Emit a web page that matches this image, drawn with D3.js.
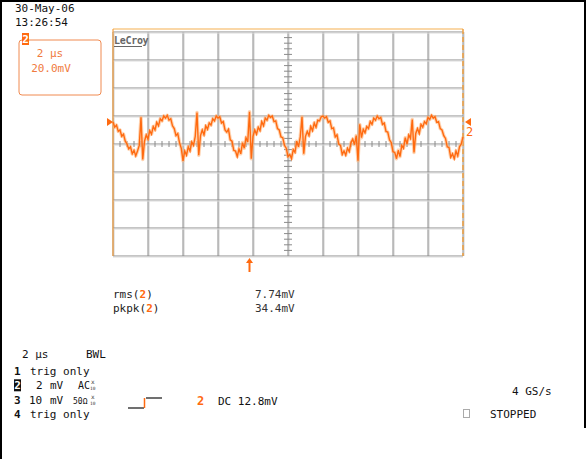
<!DOCTYPE html>
<html><head><meta charset="utf-8">
<script src="https://cdn.jsdelivr.net/npm/d3@7"></script>
<style>
html,body{margin:0;padding:0;background:#fff;}
svg{display:block;}
text{font-family:"DejaVu Sans Mono",monospace;}
</style></head>
<body>
<svg id="c" width="586" height="459"></svg>
<script>
// ---- data ----
const dateLabel = "30-May-06";
const timeLabel = "13:26:54";
const timeDomain = [-10, 10];      // µs, 2 µs/div
const voltDomain = [-8, 8];        // mV, 2 mV/div
const channelOffset = 1.57;        // mV, channel 2 ground marker
const triggerTime = -2.2;          // µs
const trace = [
 1.57,1.2,1.35,0.9,1.0,0.55,0.7,0.2,0.0,-0.35,-0.2,
 -0.7,-0.45,-0.85,-0.5,-0.1,1.9,-1.1,
 0.2,0.65,0.35,0.95,0.7,1.25,1.0,1.55,1.3,1.8,1.65,
 2.0,1.85,2.05,
 1.7,1.8,1.3,1.1,0.6,0.75,0.1,-0.3,-1.2,-0.5,
 -0.8,-0.2,-0.5,0.15,-0.1,0.55,2.25,-0.8,0.6,
 1.0,0.65,1.3,1.05,1.5,1.35,1.8,1.65,
 2.0,1.85,1.95,
 1.5,1.6,1.0,0.85,1.05,0.3,0.2,-0.45,-0.5,-0.9,
 -0.35,-0.7,0.1,-0.3,0.45,0.15,2.3,-1.05,0.55,
 1.0,0.7,1.2,0.95,1.6,1.3,1.85,1.7,
 2.05,1.9,2.0,
 1.6,1.65,1.1,1.0,0.5,0.45,-0.1,-0.3,-0.9,-0.75,
 -1.05,-0.4,-0.6,0.2,-0.2,0.5,1.95,-0.7,0.55,
 0.9,0.6,1.25,0.95,1.5,1.2,1.7,1.65,1.95,
 2.0,1.85,1.95,
 1.55,1.65,1.1,1.15,0.5,0.65,0.0,-0.1,-0.75,-0.5,
 -0.8,-0.3,-0.55,0.1,0.35,-0.05,0.6,-1.2,1.4,0.45,
 1.05,0.8,1.25,1.1,1.6,1.4,1.85,1.7,
 2.0,1.8,1.9,
 1.4,1.5,0.9,0.85,0.3,0.1,-0.55,-0.6,-1.05,
 -0.45,-0.9,-0.1,-0.3,0.45,0.0,0.65,0.4,1.75,-0.6,0.75,
 1.1,0.75,1.4,1.2,1.6,1.45,1.9,1.75,
 2.05,1.85,1.95,
 1.55,1.6,1.1,1.0,0.6,0.4,-0.2,-0.25,-0.95,-0.7,
 -1.05,-0.5,-0.85,-0.2,0.0,0.5
];
const measLabels = ["rms(", "pkpk("];
const measValues = ["7.74mV", "34.4mV"];
const chanLines = [
  {n:"1", parts:[["trig only",30,11]]},
  {n:"2", parts:[["2",36,11],["mV",50,11],["AC",78,10]], boxed:true, probe:true},
  {n:"3", parts:[["10",29,11],["mV",50,11],["50Ω",73,8]], probe:true},
  {n:"4", parts:[["trig only",30,11]]}
];

// ---- drawing ----
const svg = d3.select("#c");
const ORANGE = "#ff6a10";
const x = d3.scaleLinear().domain(timeDomain).range([113, 463]);
const y = d3.scaleLinear().domain(voltDomain).range([256, 32]);
const xi = d3.scaleLinear().domain([0, trace.length - 1]).range(timeDomain);

// border
svg.append("line").attr("x1",0).attr("x2",586).attr("y1",1).attr("y2",1).attr("stroke","#000").attr("stroke-width",2);
svg.append("line").attr("x1",1).attr("x2",1).attr("y1",0).attr("y2",459).attr("stroke","#000").attr("stroke-width",2);
svg.append("line").attr("x1",585).attr("x2",585).attr("y1",0).attr("y2",428).attr("stroke","#000").attr("stroke-width",2);

// header
svg.append("text").attr("x",15).attr("y",12).attr("font-size",11).attr("fill","#111").text(dateLabel);
svg.append("text").attr("x",15).attr("y",26).attr("font-size",11).attr("fill","#111").text(timeLabel);

// channel box
svg.append("rect").attr("x",19).attr("y",40).attr("width",82).attr("height",55).attr("rx",3)
  .attr("fill","none").attr("stroke","#f08a50").attr("stroke-width",1);
svg.append("rect").attr("x",22).attr("y",33).attr("width",7).attr("height",12).attr("fill",ORANGE);
svg.append("text").attr("x",25.5).attr("y",43).attr("text-anchor","middle").attr("font-size",11).attr("font-weight","bold").attr("fill","#fff").text("2");
svg.append("text").attr("x",50).attr("y",57).attr("text-anchor","middle").attr("font-size",11).attr("fill","#f07a40").text("2 µs");
svg.append("text").attr("x",51).attr("y",72).attr("text-anchor","middle").attr("font-size",11).attr("fill","#f07a40").text("20.0mV");

// grid
const g = svg.append("g");
const xt = d3.range(timeDomain[0], timeDomain[1] + 0.001, 2);
const yt = d3.range(voltDomain[0], voltDomain[1] + 0.001, 2);
g.selectAll(".vl2").data(xt).join("line")
  .attr("x1",d=>x(d)+1).attr("x2",d=>x(d)+1).attr("y1",y(8)).attr("y2",y(-8))
  .attr("stroke","#d0d0d0").attr("stroke-width",1);
g.selectAll(".vl").data(xt).join("line")
  .attr("x1",d=>x(d)).attr("x2",d=>x(d)).attr("y1",y(8)).attr("y2",y(-8))
  .attr("stroke","#8a8a8a").attr("stroke-width",1);
g.selectAll(".hl").data(yt).join("line")
  .attr("x1",x(-10)).attr("x2",x(10)).attr("y1",d=>y(d)).attr("y2",d=>y(d))
  .attr("stroke","#8a8a8a").attr("stroke-width",1);
g.selectAll(".hl2").data(yt).join("line")
  .attr("x1",x(-10)).attr("x2",x(10)).attr("y1",d=>y(d)+1).attr("y2",d=>y(d)+1)
  .attr("stroke","#dcdcdc").attr("stroke-width",1);
// minor ticks on center lines
const vMinor = d3.range(-8, 8.001, 0.4).filter(v => Math.abs(v/2 - Math.round(v/2)) > 0.01);
g.selectAll(".vm").data(vMinor).join("line")
  .attr("x1",x(0)-4).attr("x2",x(0)+4).attr("y1",d=>y(d)).attr("y2",d=>y(d))
  .attr("stroke","#8a8a8a").attr("stroke-width",1);
const tMinor = d3.range(-10, 10.001, 0.4).filter(v => Math.abs(v/2 - Math.round(v/2)) > 0.01);
g.selectAll(".tm").data(tMinor).join("line")
  .attr("x1",d=>x(d)).attr("x2",d=>x(d)).attr("y1",y(0)-3).attr("y2",y(0)+3)
  .attr("stroke","#8a8a8a").attr("stroke-width",1);

// orange frame
svg.append("line").attr("x1",x(-10)).attr("x2",x(10)).attr("y1",29).attr("y2",29).attr("stroke","#f5b050").attr("stroke-width",1.2);
svg.append("line").attr("x1",x(-10)).attr("x2",x(-10)).attr("y1",29).attr("y2",y(-8)).attr("stroke","#f5a040").attr("stroke-width",1.2);
svg.append("line").attr("x1",x(10)).attr("x2",x(10)).attr("y1",29).attr("y2",y(-8)).attr("stroke","#f0a040").attr("stroke-width",1.5).attr("stroke-dasharray","5,3");

// LeCroy logo
svg.append("text").attr("x",114).attr("y",44).attr("font-size",10).attr("font-weight","bold").attr("fill","#666")
  .attr("font-family","DejaVu Sans, sans-serif").attr("letter-spacing","-0.3").text("LeCroy");
svg.append("line").attr("x1",114).attr("x2",142).attr("y1",46.5).attr("y2",46.5).attr("stroke","#666").attr("stroke-width",1);

// trace
const line = d3.line().x((d,i)=>x(xi(i))).y(d=>y(d));
svg.append("path").datum(trace).attr("d",line).attr("fill","none").attr("stroke","#ffb47a").attr("stroke-width",3.5).attr("stroke-opacity",0.6).attr("stroke-linejoin","round");
svg.append("path").datum(trace).attr("d",line).attr("fill","none").attr("stroke",ORANGE).attr("stroke-width",1.4);

// channel markers
const oy = y(channelOffset);
svg.append("path").attr("d",`M${x(-10)-6},${oy-4} L${x(-10)},${oy} L${x(-10)-6},${oy+4} Z`).attr("fill",ORANGE);
svg.append("path").attr("d",`M${x(10)+8},${oy-4} L${x(10)+2},${oy} L${x(10)+8},${oy+4} Z`).attr("fill",ORANGE);
svg.append("text").attr("x",x(10)+3).attr("y",oy+14).attr("font-size",12).attr("fill",ORANGE).text("2");

// trigger arrow
const tx = x(triggerTime);
svg.append("line").attr("x1",tx).attr("x2",tx).attr("y1",262).attr("y2",272).attr("stroke",ORANGE).attr("stroke-width",2);
svg.append("path").attr("d",`M${tx-3.5},${263} L${tx},${258} L${tx+3.5},${263} Z`).attr("fill",ORANGE);

// measurements
measLabels.forEach((lab,i)=>{
  const t = svg.append("text").attr("x",113).attr("y",298+i*14).attr("font-size",11).attr("fill","#222");
  t.append("tspan").text(lab);
  t.append("tspan").attr("fill",ORANGE).attr("font-weight","bold").text("2");
  t.append("tspan").text(")");
  svg.append("text").attr("x",255).attr("y",298+i*14).attr("font-size",11).attr("fill","#333").text(measValues[i]);
});

// bottom
svg.append("text").attr("x",22).attr("y",358).attr("font-size",11).attr("fill","#111").text("2 µs");
svg.append("text").attr("x",86).attr("y",358).attr("font-size",11).attr("fill","#111").text("BWL");
chanLines.forEach((c,i)=>{
  const by = 375 + i*14.3;
  if (c.boxed) {
    svg.append("rect").attr("x",14).attr("y",by-10).attr("width",7).attr("height",12).attr("fill","#111");
    svg.append("text").attr("x",17.5).attr("y",by).attr("text-anchor","middle").attr("font-size",11).attr("font-weight","bold").attr("fill","#fff").text(c.n);
  } else {
    svg.append("text").attr("x",14).attr("y",by).attr("font-size",11).attr("font-weight","bold").attr("fill","#111").text(c.n);
  }
  c.parts.forEach(p=>{
    svg.append("text").attr("x",p[1]).attr("y",by).attr("font-size",p[2]).attr("fill","#111").text(p[0]);
  });
  if (c.probe) {
    svg.append("text").attr("x",91).attr("y",by-5).attr("font-size",6).attr("fill","#333").text("x");
    svg.append("text").attr("x",90).attr("y",by+1).attr("font-size",4.5).attr("fill","#333").text("10");
  }
});
// trigger symbol
svg.append("path").attr("d","M128,408 L144,408").attr("stroke","#111").attr("stroke-width",1.2).attr("fill","none");
svg.append("path").attr("d","M144.5,408 L144.5,398").attr("stroke",ORANGE).attr("stroke-width",1.5).attr("fill","none");
svg.append("path").attr("d","M146,398 L162,398").attr("stroke","#111").attr("stroke-width",1.2).attr("fill","none");
svg.append("text").attr("x",197).attr("y",405).attr("font-size",12).attr("font-weight","bold").attr("fill",ORANGE).text("2");
svg.append("text").attr("x",218).attr("y",405).attr("font-size",11).attr("fill","#111").text("DC 12.8mV");

svg.append("text").attr("x",512).attr("y",395).attr("font-size",11).attr("fill","#111").text("4 GS/s");
svg.append("rect").attr("x",463.5).attr("y",409.5).attr("width",6).attr("height",8).attr("fill","none").attr("stroke","#aaa").attr("stroke-width",1);
svg.append("text").attr("x",490).attr("y",418).attr("font-size",11).attr("fill","#111").text("STOPPED");
</script>
</body></html>
